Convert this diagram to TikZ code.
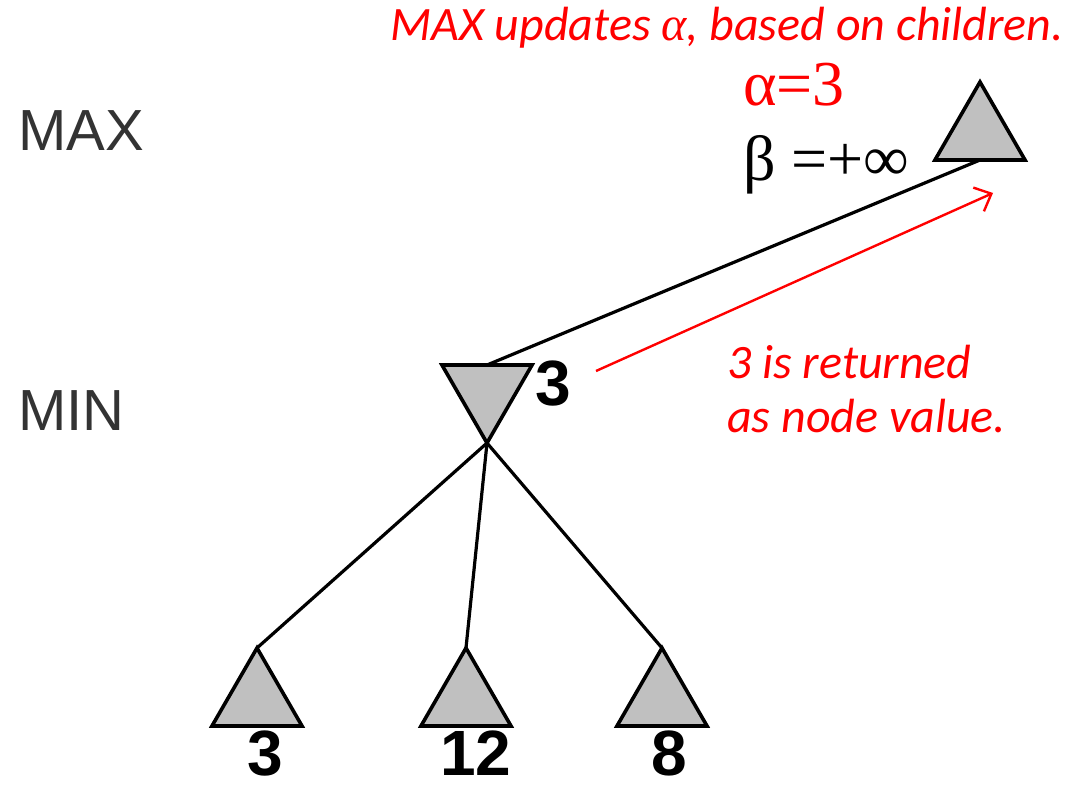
\documentclass[tikz,border=0pt]{standalone}
\usepackage{fontspec}
\setmainfont{Liberation Sans}
\newfontfamily\calfont{Carlito}
\newfontfamily\tnrfont{Liberation Serif}
\usetikzlibrary{shapes.geometric,arrows.meta}
\definecolor{tri}{HTML}{C0C0C0}
\definecolor{lbl}{HTML}{333333}
\begin{document}
\begin{tikzpicture}[x=1pt,y=-1pt,
  maxnode/.style={regular polygon,regular polygon sides=3,draw=black,fill=tri,line width=3.6pt,minimum size=104pt,inner sep=0pt,outer sep=0pt},
  minnode/.style={maxnode,shape border rotate=180},
  edge/.style={line width=3.2pt,black},
  redtxt/.style={text=red,font=\calfont\itshape\fontsize{48}{54}\selectfont,anchor=base west,inner sep=0pt},
  digit/.style={font=\bfseries\fontsize{64}{68}\selectfont,anchor=base,inner sep=0pt},
  level/.style={font=\fontsize{58}{60}\selectfont,text=lbl,anchor=base west,inner sep=0pt},
  greek/.style={font=\tnrfont\fontsize{64}{68}\selectfont,anchor=base west,inner sep=0pt}]
\useasboundingbox (0,0) rectangle (1072,787);
% nodes
\node[maxnode] (root) at (980,134) {};
\node[minnode] (mid) at (487,391) {};
\node[maxnode] (l1) at (257,700) {};
\node[maxnode] (l2) at (466,700) {};
\node[maxnode] (l3) at (662,700) {};
% edges
\draw[edge] (root.side 2) -- (mid.side 2);
\draw[edge] (mid.corner 1) -- (l1.corner 1);
\draw[edge] (mid.corner 1) -- (l2.corner 1);
\draw[edge] (mid.corner 1) -- (l3.corner 1);
% labels
\node[level] (maxlbl) at (18,150) {MAX};
\node[level] (minlbl) at (18,430) {MIN};
\node[digit] (v1) at (265,775) {3};
\node[digit] (v2) at (476,775) {12};
\node[digit] (v3) at (669,775) {8};
\node[digit,anchor=base west] (vm) at (535,405) {3};
\node[greek,text=red] (alpha) at (743,105) {α=3};
\node[greek] (beta) at (743,180) {β =+∞};
\node[redtxt] (top) at (390,41) {MAX updates {\tnrfont α}, based on children.};
\node[redtxt] (ret1) at (727,378) {3 is returned};
\node[redtxt] (ret2) at (727,432) {as node value.};
% red arrow
\coordinate (as) at (596,371);
\coordinate (ae) at (993,193);
\draw[red,line width=2.4pt,-{Straight Barb[length=14pt,width=26pt,line width=2.4pt]}] (as) -- (ae);
\end{tikzpicture}
\end{document}
